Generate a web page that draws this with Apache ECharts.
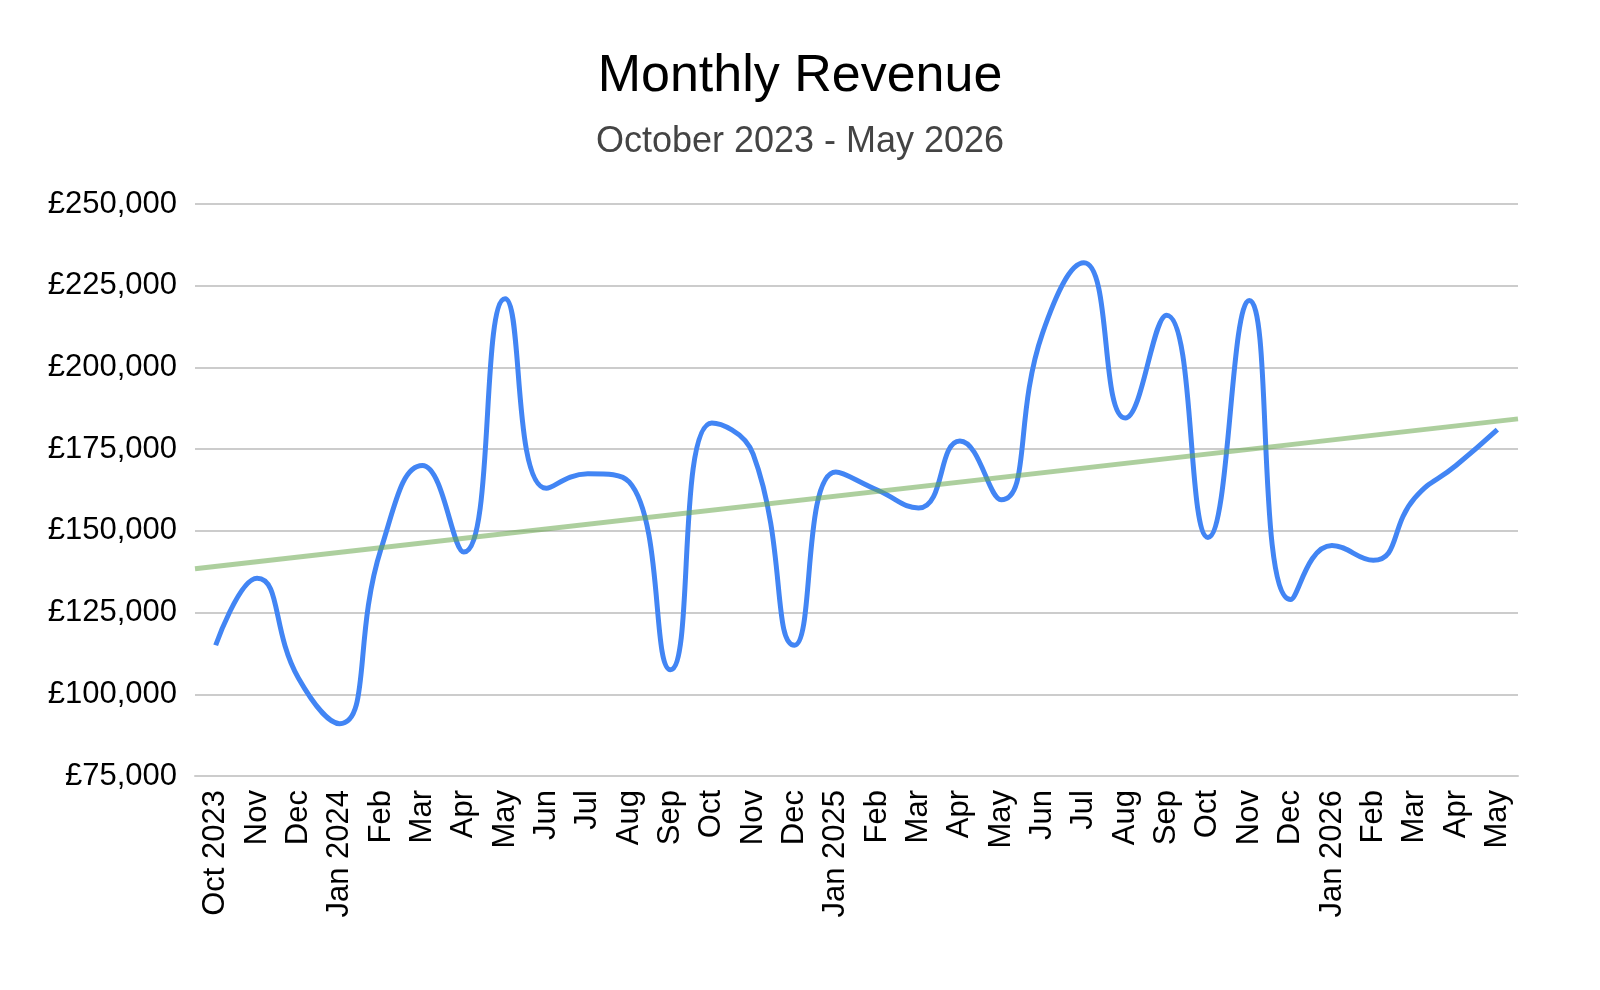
<!DOCTYPE html>
<html>
<head>
<meta charset="utf-8">
<title>Monthly Revenue</title>
<script src="https://cdn.jsdelivr.net/npm/echarts@6/dist/echarts.min.js"></script>
<style>
    html, body { margin: 0; padding: 0; background: #fff; }
    #chart { width: 1600px; height: 990px; }
</style>
</head>
<body>
<div id="chart"></div>
<script>
var months = ['Oct 2023', 'Nov', 'Dec', 'Jan 2024', 'Feb', 'Mar', 'Apr', 'May', 'Jun', 'Jul', 'Aug', 'Sep',
    'Oct', 'Nov', 'Dec', 'Jan 2025', 'Feb', 'Mar', 'Apr', 'May', 'Jun', 'Jul', 'Aug', 'Sep',
    'Oct', 'Nov', 'Dec', 'Jan 2026', 'Feb', 'Mar', 'Apr', 'May'];
var revenue = [115000, 135500, 105000, 91000, 144500, 170000, 143500, 221000, 163000, 167500, 165000, 107500,
    183000, 173500, 115000, 168000, 162500, 157000, 177500, 159500, 210500, 232000, 184500, 216000,
    148000, 220500, 129000, 145500, 141000, 160000, 170000, 181000];
var yTicks = [75000, 100000, 125000, 150000, 175000, 200000, 225000, 250000];

// least squares trend over the month index, drawn across the whole plot
function trendEnds(vals) {
    var n = vals.length, sx = 0, sy = 0, sxy = 0, sxx = 0;
    for (var i = 0; i < n; i++) {
        sx += i; sy += vals[i]; sxy += i * vals[i]; sxx += i * i;
    }
    var b = (n * sxy - sx * sy) / (n * sxx - sx * sx);
    var a = (sy - b * sx) / n;
    var x0 = -0.5, x1 = n - 0.5;
    return [[x0, a + b * x0], [x1, a + b * x1]];
}

var font = '"Liberation Sans", Arial, sans-serif';
var chart = echarts.init(document.getElementById('chart'));
var option = {
    animation: false,
    title: [
        {
            text: 'Monthly Revenue',
            left: 'center',
            top: 46,
            textStyle: {fontFamily: font, fontSize: 52, fontWeight: 'normal', color: '#000'}
        },
        {
            text: 'October 2023 - May 2026',
            left: 'center',
            top: 119,
            textStyle: {fontFamily: font, fontSize: 36, fontWeight: 'normal', color: '#444'}
        }
    ],
    grid: {
        left: 195,
        right: 82,
        top: 204,
        bottom: 214
    },
    xAxis: [
        {
            type: 'category',
            data: months,
            boundaryGap: true,
            axisTick: {show: false},
            axisLine: {lineStyle: {color: '#cccccc', width: 2}},
            axisLabel: {
                interval: 0,
                rotate: 90,
                margin: 14,
                fontFamily: font,
                fontSize: 31,
                color: '#000'
            }
        },
        {
            type: 'value',
            min: -0.5,
            max: months.length - 0.5,
            show: false
        }
    ],
    yAxis: {
        type: 'value',
        min: yTicks[0],
        max: yTicks[yTicks.length - 1],
        interval: 25000,
        axisLine: {show: false},
        axisTick: {show: false},
        splitLine: {lineStyle: {color: '#cccccc', width: 2}},
        axisLabel: {
            margin: 18,
            fontFamily: font,
            fontSize: 31,
            color: '#000',
            formatter: function (v) {
                return '£' + v.toLocaleString('en-GB');
            }
        }
    },
    series: [
        {
            name: 'Revenue',
            type: 'line',
            data: revenue,
            smooth: 0.5,
            symbol: 'none',
            lineStyle: {color: '#4285f4', width: 5}
        },
        {
            name: 'Trend',
            type: 'line',
            xAxisIndex: 1,
            data: trendEnds(revenue),
            symbol: 'none',
            silent: true,
            z: 3,
            lineStyle: {color: 'rgba(106,168,79,0.55)', width: 5}
        }
    ]
};
chart.setOption(option);
window.onresize = chart.resize;
</script>
</body>
</html>
